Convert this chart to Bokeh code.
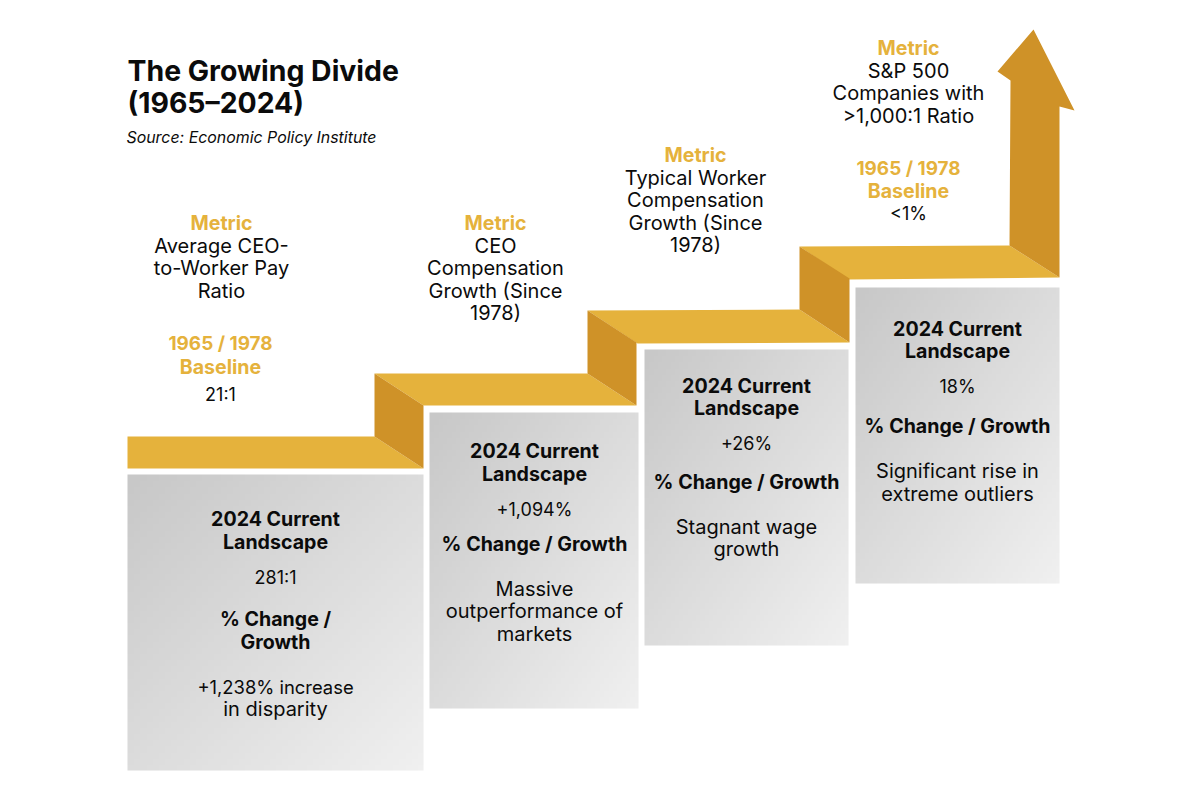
import numpy as np
from bokeh.core.properties import value
from bokeh.embed import file_html
from bokeh.models import ColumnDataSource, Range1d
from bokeh.plotting import figure
from bokeh.resources import INLINE

# ---- text content ----
title_lines = ["The Growing Divide", "(1965–2024)"]
source_line = "Source: Economic Policy Institute"

metric_heads = ["Metric", "Metric", "Metric", "Metric"]
metric_names = [
    ["Average CEO-", "to-Worker Pay", "Ratio"],
    ["CEO", "Compensation", "Growth (Since", "1978)"],
    ["Typical Worker", "Compensation", "Growth (Since", "1978)"],
    ["S&P 500", "Companies with", ">1,000:1 Ratio"],
]
baseline_head = ["1965 / 1978", "Baseline"]
baseline_values = {0: "21:1", 3: "<1%"}

landscape_head = ["2024 Current", "Landscape"]
landscape_values = ["281:1", "+1,094%", "+26%", "18%"]
change_heads = [["% Change /", "Growth"], ["% Change / Growth"], ["% Change / Growth"], ["% Change / Growth"]]
change_notes = [
    ["+1,238% increase", "in disparity"],
    ["Massive", "outperformance of", "markets"],
    ["Stagnant wage", "growth"],
    ["Significant rise in", "extreme outliers"],
]

# ---- layout (page pixels) ----
GOLD, DARK_GOLD, INK = "#e5b23c", "#cf9228", "#0b0b0b"
FONT = value("Inter")
LABEL_PT, HEAD_PT, NUM_PT, YEAR_PT = "20px", "19.6px", "18px", "18.9px"
DY = -0.7

panels = [(127, 423, 474, 770), (429, 638, 412, 708), (644, 848, 349, 645), (855, 1059, 287, 583)]
tops = [
    ([127, 374, 423, 127], [436, 436, 468, 468]),
    ([374, 587, 636, 423], [373, 373, 405, 405]),
    ([587, 799, 849, 637], [310, 309, 342, 343]),
    ([799, 1009, 1059, 848], [246, 245, 277, 279]),
]
risers = [
    ([374, 423, 423, 374], [373, 405, 468, 436]),
    ([587, 636, 636, 587], [310, 342, 405, 373]),
    ([799, 849, 849, 799], [246, 278, 342, 309]),
]
arrow = ([1009, 1059, 1059, 1074, 1033, 997, 1010], [245, 277, 106, 110, 29, 71, 80])

p = figure(width=1200, height=800, x_range=Range1d(0, 1200), y_range=Range1d(800, 0),
           output_backend="svg", toolbar_location=None, min_border=0,
           background_fill_color="white", border_fill_color="white", outline_line_color=None)
p.axis.visible = False
p.grid.visible = False

# panels with a diagonal light-grey gradient
for x0, x1, y0, y1 in panels:
    n = 48
    u, v = np.meshgrid(np.linspace(0, 1, n), np.linspace(0, 1, n))
    g = (200 + 40 * (0.5 * u + 0.5 * v)).astype(np.uint32)
    img = (255 << 24) | (g << 16) | (g << 8) | g
    p.image_rgba(image=[img.astype(np.uint32)], x=x0, y=y0, dw=x1 - x0, dh=y1 - y0, origin="bottom_left")

p.patches([t[0] for t in tops], [t[1] for t in tops], fill_color=GOLD, line_color=None)
p.patches([r[0] for r in risers], [r[1] for r in risers], fill_color=DARK_GOLD, line_color=None)
p.patch(arrow[0], arrow[1], fill_color=DARK_GOLD, line_color=None)


def put(lines, x, ys, color=INK, style="normal", size=LABEL_PT, align="center"):
    src = ColumnDataSource(dict(x=[x] * len(lines), y=[y + DY for y in ys], t=list(lines)))
    p.text("x", "y", "t", source=src, text_color=color, text_font=FONT, text_font_style=style,
           text_font_size=size, text_align=align, text_baseline="middle")


put(title_lines, 127, [71, 103], style="bold", size="28.4px", align="left")
put([source_line], 126, [138], style="italic", size="15.9px", align="left")

metric_x = [221, 495, 695, 908]
metric_y = [223, 223, 155, 48]
for i in range(4):
    put([metric_heads[i]], metric_x[i], [metric_y[i]], GOLD, "bold", HEAD_PT)
    ys = [metric_y[i] + 23 + 22.5 * k for k in range(len(metric_names[i]))]
    put(metric_names[i], metric_x[i], ys)

put(baseline_head[:1], 220, [344], GOLD, "bold", YEAR_PT)
put(baseline_head[1:], 220, [367], GOLD, "bold", HEAD_PT)
put([baseline_values[0]], 220, [395], size=NUM_PT)
put(baseline_head[:1], 908, [169], GOLD, "bold", YEAR_PT)
put(baseline_head[1:], 908, [191], GOLD, "bold", HEAD_PT)
put([baseline_values[3]], 908, [214], size=NUM_PT)

panel_x = [275, 534, 746, 957]
head_y = [[519, 542], [451, 474], [386, 408], [329, 351]]
value_y = [578, 510, 444, 387]
change_y = [[619, 642], [544], [482], [426]]
note_y = [[687, 709], [589, 611, 634], [527, 549], [471, 494]]
for i in range(4):
    put(landscape_head, panel_x[i], head_y[i], style="bold", size=HEAD_PT)
    put([landscape_values[i]], panel_x[i], [value_y[i]], size=NUM_PT)
    put(change_heads[i], panel_x[i], change_y[i], style="bold", size=HEAD_PT)
    if i == 0:
        put(change_notes[i][:1], panel_x[i], note_y[i][:1], size="18.4px")
        put(change_notes[i][1:], panel_x[i], note_y[i][1:])
    else:
        put(change_notes[i], panel_x[i], note_y[i])

open("out.html", "w").write(file_html(p, INLINE))
